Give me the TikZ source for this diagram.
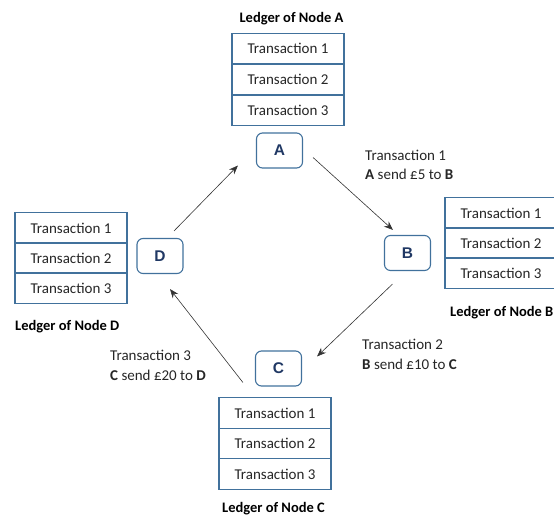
\documentclass[tikz,border=0pt]{standalone}
\usepackage{fontspec}
\setmainfont{Carlito}
\newfontfamily\letterfont{Liberation Sans}
\usetikzlibrary{arrows.meta}
\definecolor{boxblue}{HTML}{41719C}
\definecolor{navy}{HTML}{203864}
\tikzset{
  row/.style={draw=boxblue, line width=1.1pt, minimum width=112pt, minimum height=30.5pt, inner sep=0pt,
    font=\fontsize{15}{17}\selectfont, text=black!85},
  peer/.style={draw=boxblue, line width=1.1pt, rounded corners=6pt, minimum width=46pt, minimum height=35pt,
    inner sep=0pt, font=\letterfont\bfseries\fontsize{15.5}{17}\selectfont, text=navy},
  title/.style={font=\bfseries\fontsize{14.5}{16}\selectfont, inner sep=0pt},
  lbl/.style={font=\fontsize{15}{17}\selectfont, inner sep=0pt, anchor=west, text=black!85},
  arr/.style={-{Stealth[length=9pt,width=7pt]}, line width=0.6pt, draw=black!80}
}
\begin{document}
\begin{tikzpicture}[x=1pt,y=-1pt]
\useasboundingbox (0,0) rectangle (554,517);
% Ledger A
\node[title] (tA) at (291.5,19) {Ledger of Node A};
\node[row] (a1) at (288,48.5) {Transaction 1};
\node[row] (a2) at (288,79.5) {Transaction 2};
\node[row] (a3) at (288,110.5) {Transaction 3};
% Ledger B
\node[row] (b1) at (501,213) {Transaction 1};
\node[row] (b2) at (501,243) {Transaction 2};
\node[row] (b3) at (501,273) {Transaction 3};
\node[title, anchor=west] (tB) at (450,313) {Ledger of Node B};
% Ledger D
\node[row] (d1) at (71,228) {Transaction 1};
\node[row] (d2) at (71,258) {Transaction 2};
\node[row] (d3) at (71,288) {Transaction 3};
\node[title, anchor=west] (tD) at (15,327) {Ledger of Node D};
% Ledger C
\node[row] (c1) at (275,413) {Transaction 1};
\node[row] (c2) at (275,443.5) {Transaction 2};
\node[row] (c3) at (275,474) {Transaction 3};
\node[title] (tC) at (273.5,509) {Ledger of Node C};
% Peers
\node[peer] (A) at (279.5,150.5) {A};
\node[peer] (B) at (407.5,253) {B};
\node[peer] (C) at (278.5,368.5) {C};
\node[peer] (D) at (160,256) {D};
% Arrows
\draw[arr] ([shift={(10,7)}]A.east) -- ([shift={(9,-5)}]B.north west);
\draw[arr] ([shift={(-15,13)}]B.south) -- ([shift={(15,6)}]C.north east);
\draw[arr] ([shift={(-12,14)}]C.west) -- ([shift={(10,15)}]D.south);
\draw[arr] ([shift={(14,-7)}]D.north) -- ([shift={(-18,15)}]A.west);
% Labels
\node[lbl] (l1a) at (365,155) {Transaction 1};
\node[lbl] (l1b) at (365,174) {\textbf{A} send £5 to \textbf{B}};
\node[lbl] (l2a) at (362,344) {Transaction 2};
\node[lbl] (l2b) at (362,364) {\textbf{B} send £10 to \textbf{C}};
\node[lbl] (l3a) at (110,355) {Transaction 3};
\node[lbl] (l3b) at (110,375) {\textbf{C} send £20 to \textbf{D}};
\end{tikzpicture}
\end{document}
